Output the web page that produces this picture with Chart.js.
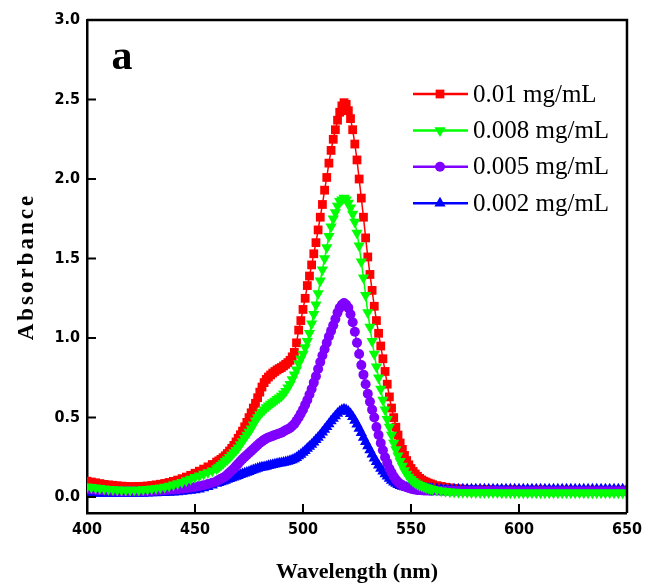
<!DOCTYPE html>
<html lang="en">
<head>
<meta charset="UTF-8">
<title>Absorbance spectra</title>
<script src="https://cdn.jsdelivr.net/npm/chart.js"></script>
<style>
    html, body { margin: 0; padding: 0; background: #fff; }
    #wrap { width: 649px; height: 587px; }
</style>
</head>
<body>
<div id="wrap"><canvas id="spectra" width="649" height="587"></canvas></div>
<script>
// sampling grid in nm: 2 nm steps, 1 nm across the band 460-560
const wavelength = [];
for (let w = 400; w <= 458; w += 2) wavelength.push(w);
for (let w = 460; w <= 560; w += 1) wavelength.push(w);
for (let w = 562; w <= 650; w += 2) wavelength.push(w);

// absorbance
const conc001 = [
    0.100,0.095,0.090,0.085,0.080,0.077,0.074,0.071,0.069,0.067,
    0.066,0.066,0.067,0.068,0.070,0.073,0.077,0.081,0.086,0.092,
    0.099,0.107,0.116,0.126,0.137,0.150,0.163,0.176,0.190,0.205,
    0.220,0.228,0.237,0.248,0.260,0.274,0.290,0.307,0.325,0.347,
    0.370,0.392,0.415,0.442,0.470,0.500,0.530,0.560,0.590,0.625,
    0.660,0.692,0.720,0.740,0.755,0.768,0.780,0.790,0.800,0.808,
    0.815,0.825,0.835,0.846,0.860,0.882,
    0.91,0.97,1.05,1.11,1.18,1.25,1.33,1.39,1.46,1.53,
    1.60,1.68,1.76,1.84,1.93,2.01,2.10,2.18,2.25,2.31,
    2.37,2.42,2.46,2.48,2.47,2.43,2.38,2.31,2.22,2.12,
    2.00,1.88,1.76,1.63,1.51,1.40,1.30,1.20,1.11,1.03,
    0.95,0.87,0.79,0.71,0.63,0.56,0.50,0.44,0.39,0.34,
    0.30,
    0.262,0.230,0.203,0.180,0.161,0.145,0.131,0.118,0.108,0.100,
    0.094,0.088,0.083,0.078,
    0.072,0.067,0.062,0.058,0.055,0.052,0.050,0.049,0.048,0.047,
    0.047,0.046,0.046,0.046,0.045,0.045,0.045,0.045,0.045,0.044,
    0.044,0.044,0.044,0.044,0.044,0.044,0.044,0.043,0.043,0.043,
    0.043,0.043,0.043,0.043,0.043,0.043,0.043,0.043,0.043,0.043,
    0.043,0.043,0.043,0.043,0.043
];
const conc0008 = [
    0.065,0.062,0.058,0.055,0.052,0.050,0.048,0.046,0.045,0.044,
    0.044,0.044,0.045,0.047,0.049,0.052,0.055,0.059,0.064,0.070,
    0.077,0.085,0.094,0.104,0.114,0.125,0.135,0.145,0.155,0.165,
    0.180,0.190,0.200,0.212,0.225,0.237,0.250,0.265,0.280,0.295,
    0.310,0.330,0.350,0.370,0.390,0.410,0.430,0.455,0.480,0.500,
    0.520,0.535,0.550,0.563,0.575,0.585,0.595,0.605,0.615,0.625,
    0.635,0.650,0.665,0.687,0.710,0.740,
    0.77,0.80,0.84,0.87,0.90,0.94,0.98,1.03,1.09,1.15,
    1.21,1.28,1.36,1.43,1.50,1.57,1.64,1.70,1.75,1.79,
    1.83,1.86,1.87,1.88,1.87,1.85,1.82,1.78,1.73,1.66,
    1.58,1.48,1.38,1.27,1.16,1.07,0.98,0.90,0.82,0.75,
    0.68,0.61,0.55,0.49,0.44,0.39,0.34,0.30,0.26,0.225,
    0.195,
    0.168,0.145,0.127,0.112,0.100,0.090,0.082,0.075,0.070,0.065,
    0.061,0.057,0.053,0.050,
    0.045,0.040,0.037,0.034,0.032,0.031,0.030,0.030,0.029,0.029,
    0.029,0.029,0.029,0.029,0.029,0.028,0.028,0.028,0.028,0.028,
    0.028,0.028,0.028,0.028,0.028,0.028,0.028,0.028,0.028,0.028,
    0.028,0.028,0.028,0.028,0.028,0.028,0.028,0.028,0.028,0.028,
    0.028,0.028,0.028,0.028,0.028
];
const conc0005 = [
    0.050,0.048,0.046,0.044,0.042,0.040,0.039,0.038,0.037,0.036,
    0.036,0.036,0.036,0.037,0.038,0.039,0.040,0.042,0.044,0.046,
    0.048,0.050,0.053,0.056,0.060,0.064,0.069,0.075,0.082,0.090,
    0.100,0.107,0.115,0.122,0.130,0.142,0.155,0.167,0.180,0.195,
    0.210,0.225,0.240,0.252,0.265,0.277,0.290,0.302,0.315,0.328,
    0.340,0.350,0.360,0.368,0.375,0.380,0.385,0.390,0.395,0.400,
    0.405,0.412,0.420,0.427,0.435,0.447,
    0.46,0.48,0.50,0.525,0.55,0.58,0.61,0.645,0.68,0.72,
    0.76,0.805,0.85,0.89,0.93,0.97,1.01,1.045,1.08,1.12,
    1.16,1.19,1.21,1.22,1.21,1.19,1.15,1.10,1.04,0.97,
    0.90,0.83,0.77,0.71,0.65,0.60,0.55,0.50,0.44,0.39,
    0.34,0.295,0.25,0.215,0.18,0.155,0.13,0.11,0.095,0.083,
    0.073,
    0.067,0.062,0.057,0.053,0.050,0.047,0.045,0.044,0.043,0.042,
    0.041,0.041,0.040,0.040,
    0.040,0.039,0.039,0.039,0.038,0.038,0.038,0.038,0.038,0.038,
    0.038,0.038,0.038,0.038,0.038,0.037,0.037,0.037,0.037,0.037,
    0.037,0.037,0.037,0.037,0.037,0.037,0.037,0.037,0.037,0.037,
    0.037,0.037,0.037,0.037,0.037,0.037,0.037,0.037,0.037,0.037,
    0.037,0.037,0.037,0.037,0.037
];
const conc0002 = [
    0.025,0.024,0.023,0.023,0.022,0.022,0.022,0.022,0.022,0.022,
    0.022,0.022,0.023,0.023,0.024,0.025,0.026,0.027,0.028,0.029,
    0.030,0.032,0.035,0.038,0.041,0.045,0.050,0.057,0.065,0.075,
    0.085,0.090,0.095,0.100,0.105,0.110,0.115,0.120,0.125,0.130,
    0.135,0.140,0.145,0.150,0.155,0.160,0.165,0.170,0.175,0.180,
    0.185,0.188,0.190,0.193,0.197,0.200,0.203,0.207,0.210,0.213,
    0.215,0.217,0.220,0.224,0.228,0.234,
    0.240,0.248,0.258,0.268,0.280,0.292,0.305,0.318,0.330,0.345,
    0.360,0.375,0.390,0.408,0.425,0.443,0.460,0.478,0.495,0.510,
    0.525,0.538,0.548,0.552,0.548,0.538,0.524,0.505,0.482,0.458,
    0.432,0.404,0.375,0.348,0.322,0.296,0.270,0.245,0.222,0.200,
    0.180,0.162,0.146,0.131,0.117,0.105,0.094,0.085,0.078,0.072,
    0.067,
    0.063,0.060,0.058,0.056,0.055,0.054,0.053,0.053,0.053,0.052,
    0.052,0.052,0.051,0.051,
    0.051,0.051,0.050,0.050,0.050,0.050,0.050,0.050,0.050,0.050,
    0.050,0.050,0.050,0.050,0.050,0.050,0.050,0.050,0.050,0.050,
    0.050,0.050,0.050,0.050,0.050,0.050,0.050,0.050,0.050,0.050,
    0.050,0.050,0.050,0.050,0.050,0.050,0.050,0.050,0.050,0.050,
    0.050,0.050,0.050,0.050,0.050
];

const seriesLabels = ['0.01 mg/mL', '0.008 mg/mL', '0.005 mg/mL', '0.002 mg/mL'];
const seriesColors = ['#ff0000', '#00ff00', '#7f00ff', '#0000ff'];
const xTicks = [400, 450, 500, 550, 600, 650];
const yTicks = [0, 0.5, 1.0, 1.5, 2.0, 2.5, 3.0];
const xTitle = 'Wavelength (nm)';
const yTitle = 'Absorbance';
const panelLetter = 'a';

const tickFont = { family: "'Liberation Sans Narrow', 'DejaVu Sans Condensed', 'Liberation Sans', sans-serif", size: 16, weight: 'bold' };
const serif = "'Liberation Serif', 'Times New Roman', serif";

const toPoints = ys => ys.map((y, i) => ({ x: wavelength[i], y: y }));

// marker shapes: square, down triangle, circle, up triangle
const markers = [
    { style: 'rect', rotation: 0, radius: 6.2 },
    { style: 'triangle', rotation: 180, radius: 6.5 },
    { style: 'circle', rotation: 0, radius: 5 },
    { style: 'triangle', rotation: 0, radius: 6.5 }
];
// green on top, then purple, blue, red underneath
const drawOrder = [3, 0, 1, 2];

const datasets = [conc001, conc0008, conc0005, conc0002].map((ys, i) => ({
    label: seriesLabels[i],
    data: toPoints(ys),
    borderColor: seriesColors[i],
    backgroundColor: seriesColors[i],
    borderWidth: 1.5,
    pointStyle: markers[i].style,
    rotation: markers[i].rotation,
    pointRadius: markers[i].radius,
    pointBorderWidth: 0,
    showLine: true,
    order: drawOrder[i]
}));

function drawMarker(ctx, m, x, y, color) {
    ctx.fillStyle = color;
    ctx.beginPath();
    if (m.style === 'rect') {
        const s = m.radius * Math.SQRT1_2;
        ctx.rect(x - s, y - s, 2 * s, 2 * s);
    } else if (m.style === 'circle') {
        ctx.arc(x, y, m.radius, 0, Math.PI * 2);
    } else {
        const r = m.radius;
        const dir = m.rotation === 180 ? -1 : 1;
        ctx.moveTo(x, y - dir * r);
        ctx.lineTo(x + r * 0.866, y + dir * r * 0.5);
        ctx.lineTo(x - r * 0.866, y + dir * r * 0.5);
        ctx.closePath();
    }
    ctx.fill();
}

// frame, inward ticks, legend, panel letter and y title
const decorations = {
    id: 'decorations',
    afterDraw(chart) {
        const ctx = chart.ctx;
        const area = chart.chartArea;
        const xs = chart.scales.x, ys = chart.scales.y;
        ctx.save();
        ctx.strokeStyle = '#000';
        ctx.lineWidth = 2.5;
        ctx.beginPath();
        ctx.moveTo(area.left, area.top);
        ctx.lineTo(area.right, area.top);
        ctx.lineTo(area.right, area.bottom);
        ctx.stroke();

        ctx.lineWidth = 2;
        ctx.beginPath();
        xTicks.slice(1, -1).forEach(v => {
            const px = xs.getPixelForValue(v);
            ctx.moveTo(px, area.bottom);
            ctx.lineTo(px, area.bottom - 9);
        });
        yTicks.slice(0, -1).forEach(v => {
            const py = ys.getPixelForValue(v);
            ctx.moveTo(area.left, py);
            ctx.lineTo(area.left + 9, py);
        });
        ctx.stroke();

        // legend
        ctx.textAlign = 'left';
        ctx.textBaseline = 'middle';
        ctx.font = '25px ' + serif;
        seriesLabels.forEach((label, i) => {
            const y = 94 + i * 36.4;
            ctx.strokeStyle = seriesColors[i];
            ctx.lineWidth = 2.5;
            ctx.beginPath();
            ctx.moveTo(413, y);
            ctx.lineTo(468, y);
            ctx.stroke();
            drawMarker(ctx, markers[i], 440, y, seriesColors[i]);
            ctx.fillStyle = '#000';
            ctx.fillText(label, 473, y + 1);
        });

        ctx.font = 'bold 42px ' + serif;
        ctx.textAlign = 'center';
        ctx.fillText(panelLetter, 122, 58);

        ctx.translate(27, (area.top + area.bottom) / 2);
        ctx.rotate(-Math.PI / 2);
        ctx.font = 'bold 23px ' + serif;
        ctx.letterSpacing = '3px';
        ctx.fillText(yTitle, 0, 0);
        ctx.restore();
    }
};

[conc001, conc0008, conc0005, conc0002].forEach((ys, i) => {
    if (ys.length !== wavelength.length) console.warn('length mismatch', i, ys.length, wavelength.length);
});

new Chart(document.getElementById('spectra'), {
    type: 'scatter',
    data: { datasets: datasets },
    options: {
        responsive: false,
        animation: false,
        devicePixelRatio: 1,
        layout: { padding: { top: 20, right: 16, left: 0, bottom: 0 } },
        plugins: { legend: { display: false }, tooltip: { enabled: false } },
        scales: {
            x: {
                type: 'linear',
                min: 400,
                max: 650,
                afterBuildTicks: s => { s.ticks = xTicks.map(v => ({ value: v })); },
                afterFit: s => { s.height = 74; },
                grid: { display: false, drawTicks: false },
                border: { display: true, color: '#000', width: 2.5 },
                ticks: { color: '#000', font: tickFont, padding: 7, maxRotation: 0, autoSkip: false },
                title: {
                    display: true,
                    text: xTitle,
                    color: '#000',
                    font: { family: serif, size: 22, weight: 'bold' },
                    padding: { top: 0, bottom: 1 }
                }
            },
            y: {
                type: 'linear',
                min: -0.1,
                max: 3.0,
                afterBuildTicks: s => { s.ticks = yTicks.map(v => ({ value: v })); },
                afterFit: s => { s.width = 87; },
                grid: { display: false, drawTicks: false },
                border: { display: true, color: '#000', width: 2.5 },
                ticks: {
                    color: '#000',
                    font: tickFont,
                    padding: 7,
                    autoSkip: false,
                    callback: v => Number(v).toFixed(1)
                }
            }
        }
    },
    plugins: [decorations]
});
</script>
</body>
</html>
